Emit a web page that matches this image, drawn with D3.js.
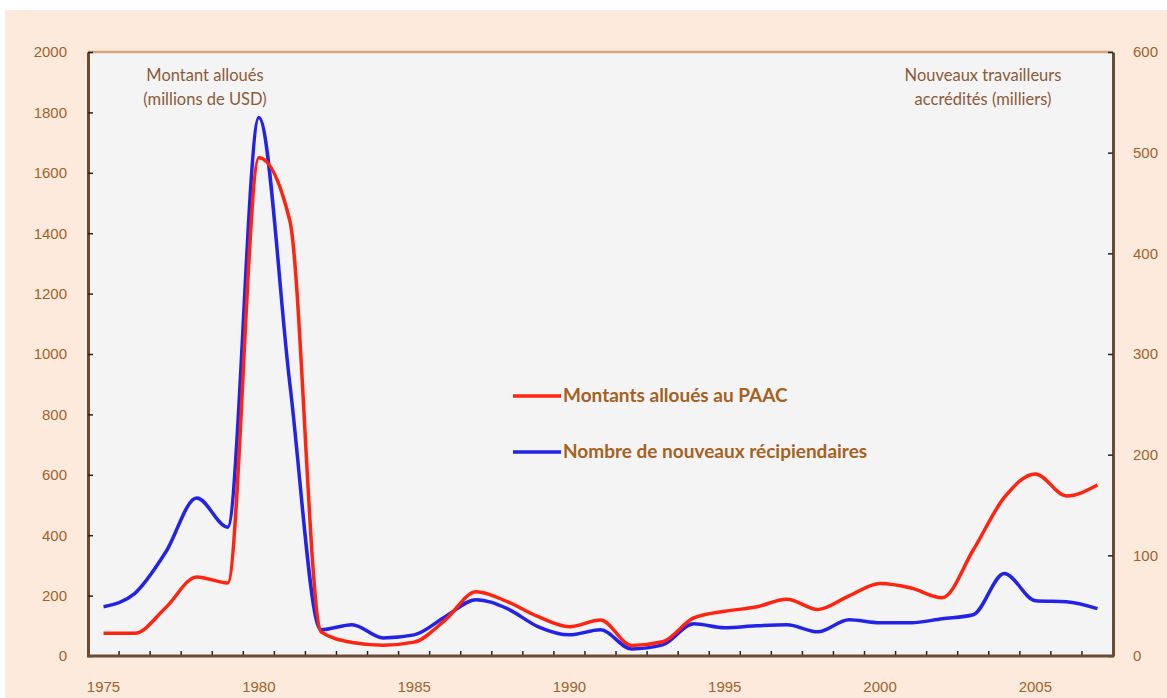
<!DOCTYPE html>
<html>
<head>
<meta charset="utf-8">
<script src="https://cdn.jsdelivr.net/npm/d3@7"></script>
<style>
  body { margin: 0; background: #fff; }
  svg { display: block; font-family: Lato, "Open Sans", sans-serif; }
</style>
</head>
<body>
<svg width="1167" height="698"></svg>
<script>
// data
var years = d3.range(1975, 2008);
var montants = [75, 75, 160, 262, 242, 1650, 1440, 80, 45, 36, 46, 119, 213, 180, 130, 97, 119, 35, 47, 126, 148, 162, 188, 154, 199, 240, 225, 193, 351, 525, 603, 530, 566];
var recipiendaires = [49, 62, 103, 157, 128, 535, 270, 26, 31, 18, 21, 39, 56, 47, 29, 21, 26, 7, 11, 32, 28, 30, 31, 24, 36, 33, 33, 37, 41, 82, 55, 54, 47];
var leftTicks = [0, 200, 400, 600, 800, 1000, 1200, 1400, 1600, 1800, 2000];
var rightTicks = [0, 100, 200, 300, 400, 500, 600];
var yearLabels = [1975, 1980, 1985, 1990, 1995, 2000, 2005];

(function () {
  var pl = 88, pr = 1113, pt = 52, pb = 656;
  var axisColor = "#6b4c33", textColor = "#a0622a";

  var svg = d3.select("svg");
  svg.append("rect").attr("x", 5).attr("y", 10).attr("width", 1162).attr("height", 688).attr("fill", "#fdeadd");
  svg.append("rect").attr("x", pl).attr("y", pt).attr("width", pr - pl).attr("height", pb - pt).attr("fill", "#f4f4f4");

  var x = d3.scaleBand().domain(years).range([pl, pr]).padding(0);
  var yL = d3.scaleLinear().domain([0, 2000]).range([pb, pt]);
  var yR = d3.scaleLinear().domain([0, 600]).range([pb, pt]);
  var cx = function (d) { return x(d) + x.bandwidth() / 2; };

  // top border
  svg.append("line").attr("x1", pl).attr("x2", pr).attr("y1", pt).attr("y2", pt)
    .attr("stroke", "#d9a57c").attr("stroke-width", 2.5);

  // left axis
  var gl = svg.append("g").attr("transform", "translate(" + pl + ",0)")
    .call(d3.axisLeft(yL).tickValues(leftTicks).tickFormat(d3.format("d")).tickSize(0).tickPadding(21));
  gl.select(".domain").attr("stroke", axisColor).attr("stroke-width", 3);
  gl.selectAll(".tick text").attr("fill", textColor).attr("font-size", 15);
  gl.selectAll(".tick").append("line").attr("x1", 0).attr("x2", 5).attr("stroke", "#222").attr("stroke-width", 1.5);

  // right axis
  var gr = svg.append("g").attr("transform", "translate(" + pr + ",0)")
    .call(d3.axisRight(yR).tickValues(rightTicks).tickFormat(d3.format("d")).tickSize(0).tickPadding(20));
  gr.select(".domain").attr("stroke", axisColor).attr("stroke-width", 3);
  gr.selectAll(".tick text").attr("fill", textColor).attr("font-size", 15);
  gr.selectAll(".tick").append("line").attr("x1", 0).attr("x2", -5).attr("stroke", "#222").attr("stroke-width", 1.5);

  // bottom axis: labels on categories, ticks between them
  var gb = svg.append("g").attr("transform", "translate(0," + pb + ")")
    .call(d3.axisBottom(x).tickValues(yearLabels).tickSize(0).tickPadding(25));
  gb.select(".domain").remove();
  gb.selectAll(".tick text").attr("fill", textColor).attr("font-size", 15);
  gb.selectAll(".boundary").data(years.slice(1)).enter().append("line")
    .attr("x1", function (d) { return x(d); }).attr("x2", function (d) { return x(d); })
    .attr("y1", 0).attr("y2", -5).attr("stroke", "#222").attr("stroke-width", 1.5);
  gb.append("line").attr("x1", pl - 1).attr("x2", pr + 1).attr("y1", 0).attr("y2", 0)
    .attr("stroke", axisColor).attr("stroke-width", 3);

  // series
  var lineL = d3.line().x(function (d, i) { return cx(years[i]); }).y(function (d) { return yL(d); })
    .curve(d3.curveMonotoneX);
  var lineR = d3.line().x(function (d, i) { return cx(years[i]); }).y(function (d) { return yR(d); })
    .curve(d3.curveMonotoneX);

  svg.append("path").datum(recipiendaires).attr("d", lineR)
    .attr("fill", "none").attr("stroke", "#2323e8").attr("stroke-width", 3.5).attr("stroke-linejoin", "round");
  svg.append("path").datum(montants).attr("d", lineL)
    .attr("fill", "none").attr("stroke", "#ff2410").attr("stroke-width", 3.5).attr("stroke-linejoin", "round");

  // axis titles inside plot
  var notes = [
    { x: 205, lines: ["Montant alloués", "(millions de USD)"] },
    { x: 983, lines: ["Nouveaux travailleurs", "accrédités (milliers)"] }
  ];
  notes.forEach(function (n) {
    n.lines.forEach(function (t, i) {
      svg.append("text").attr("x", n.x).attr("y", 81 + i * 24).attr("text-anchor", "middle")
        .attr("font-size", 16.5).attr("fill", "#8c5a38").text(t);
    });
  });

  // legend
  var legend = [
    { label: "Montants alloués au PAAC", color: "#ff2410", y: 396 },
    { label: "Nombre de nouveaux récipiendaires", color: "#2323e8", y: 452 }
  ];
  legend.forEach(function (l) {
    svg.append("line").attr("x1", 513).attr("x2", 561).attr("y1", l.y).attr("y2", l.y)
      .attr("stroke", l.color).attr("stroke-width", 3.5);
    svg.append("text").attr("x", 563).attr("y", l.y + 6).attr("font-size", 19).attr("font-weight", "bold")
      .attr("fill", "#a5611f").text(l.label);
  });
})();
</script>
</body>
</html>
